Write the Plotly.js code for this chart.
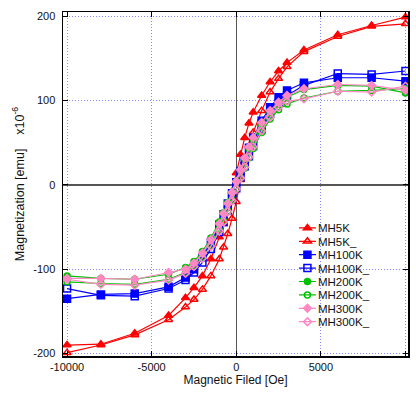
<!DOCTYPE html>
<html>
<head>
<meta charset="utf-8">
<script src="https://cdn.plot.ly/plotly-3.0.1.min.js"></script>
<style>
html,body{margin:0;padding:0;background:#fff;}
#chart{width:416px;height:394px;}
</style>
</head>
<body>
<div id="chart"></div>
<script>
// Field values (Oe) for descending branch (+H -> -H)
const H_down = [10000, 8000, 6000, 4000, 3000, 2500, 2000, 1500, 1000, 750, 500, 250, 0,
  -250, -500, -750, -1000, -1500, -2000, -2500, -3000, -4000, -6000, -8000, -10000];
// Field values for ascending branch (-H -> +H)
const H_up = [-10000, -8000, -6000, -4000, -3000, -2500, -2000, -1500, -1000, -750, -500, -250, 0,
  250, 500, 750, 1000, 1500, 2000, 2500, 3000, 4000, 6000, 8000, 10000];

// Magnetization (x10^-6 emu)
const MH5K = [199, 189, 178, 160, 145, 135, 122, 106, 86, 73, 56, 36, 14,
  -8, -28, -46, -62, -88, -108, -122, -134, -155, -176, -189, -190];
const MH5K_ = [-199, -190, -178, -160, -145, -136, -124, -108, -88, -74, -58, -40, -20,
  6, 28, 46, 62, 88, 110, 126, 140, 158, 176, 188, 191];

const MH100K = [123, 127, 127, 121, 112, 104, 92, 76, 56, 44, 30, 16, 3,
  -10, -22, -35, -47, -68, -86, -100, -110, -121, -129, -130, -135];
const MH100K_ = [-123, -131, -132, -123, -113, -104, -92, -76, -56, -44, -30, -17, -4,
  9, 22, 34, 46, 66, 84, 97, 106, 118, 132, 131, 135];

const MH200K = [109, 117, 118, 113, 104, 96, 86, 72, 54, 43, 31, 17, 4,
  -9, -21, -33, -44, -63, -79, -91, -98, -106, -112, -111, -108];
const MH200K_ = [-115, -117, -118, -112, -104, -96, -86, -72, -54, -43, -31, -18, -5,
  8, 20, 32, 43, 62, 78, 89, 96, 103, 111, 112, 114];

const MH300K = [112, 118, 119, 114, 106, 98, 88, 74, 56, 45, 32, 18, 4,
  -9, -22, -34, -46, -65, -81, -93, -100, -104, -112, -111, -111];
const MH300K_ = [-112, -118, -119, -113, -105, -97, -87, -73, -55, -44, -32, -19, -5,
  8, 21, 33, 45, 64, 80, 92, 99, 102, 111, 110, 117];

const seriesNames = ["MH5K", "MH5K_", "MH100K", "MH100K_", "MH200K", "MH200K_", "MH300K", "MH300K_"];
const xTicks = [-10000, -5000, 0, 5000, 10000];
const yTicks = [-200, -100, 0, 100, 200];

const RED = "#ff0000", BLUE = "#0000ff", GREEN = "#00c000", PINK = "#ff88c4";

function tr(name, x, y, color, symbol, size) {
  return {
    type: "scatter", mode: "lines+markers", name: name, x: x, y: y,
    line: {color: color, width: 1.2},
    marker: {color: color, symbol: symbol, size: size, line: {color: color, width: 1.5}}
  };
}

const data = [
  tr(seriesNames[0], H_down, MH5K, RED, "triangle-up", 7),
  tr(seriesNames[1], H_up, MH5K_, RED, "triangle-up-open", 7),
  tr(seriesNames[2], H_down, MH100K, BLUE, "square", 7),
  tr(seriesNames[3], H_up, MH100K_, BLUE, "square-open", 7),
  tr(seriesNames[4], H_down, MH200K, GREEN, "circle", 6),
  tr(seriesNames[5], H_up, MH200K_, GREEN, "circle-open", 6),
  tr(seriesNames[6], H_down, MH300K, PINK, "diamond", 6),
  tr(seriesNames[7], H_up, MH300K_, PINK, "diamond-open", 6)
];

const FONT = "Liberation Sans, Arial, sans-serif";

const layout = {
  width: 416, height: 394,
  margin: {l: 63, r: 8, t: 12, b: 38},
  paper_bgcolor: "#ffffff", plot_bgcolor: "#ffffff",
  font: {family: FONT, size: 11, color: "#111"},
  showlegend: true,
  legend: {
    x: 0.623, y: 0.40, xanchor: "left", yanchor: "top",
    bgcolor: "rgba(0,0,0,0)", borderwidth: 0,
    font: {family: FONT, size: 11.5, color: "#111"},
    itemwidth: 30
  },
  xaxis: {
    range: [-10240, 10150], tickvals: xTicks, ticktext: xTicks.map(String),
    showgrid: true, gridcolor: "#8a8aff", griddash: "1px,2px", gridwidth: 1,
    zeroline: true, zerolinecolor: "#555", zerolinewidth: 1.5,
    showline: true, linecolor: "#000", linewidth: 1.5, mirror: "ticks",
    ticks: "inside", ticklen: 5, tickcolor: "#000",
    tickfont: {family: FONT, size: 11, color: "#111"},
    title: {text: "Magnetic Filed [Oe]", font: {family: FONT, size: 12, color: "#111"}, standoff: 4}
  },
  yaxis: {
    range: [-203, 205], tickvals: yTicks, ticktext: yTicks.map(String),
    showgrid: true, gridcolor: "#8a8aff", griddash: "1px,2px", gridwidth: 1,
    zeroline: true, zerolinecolor: "#555", zerolinewidth: 1.5,
    showline: true, linecolor: "#000", linewidth: 1.5, mirror: "ticks",
    ticks: "inside", ticklen: 5, tickcolor: "#000",
    tickfont: {family: FONT, size: 11, color: "#111"},
    ticklabelstandoff: 4,
    title: {text: "Magnetization [emu]&nbsp;&nbsp;&nbsp;&nbsp;x10<sup>-6</sup>", font: {family: FONT, size: 12.5, color: "#111"}, standoff: 6}
  }
};

Plotly.newPlot("chart", data, layout, {displayModeBar: false, staticPlot: true}).then(function () {
  // compact legend rows and shorten the legend sample lines
  const items = document.querySelectorAll(".legend .traces");
  items.forEach(function (g, i) {
    const t = g.getAttribute("transform") || "";
    const m = t.match(/translate\(([-\d.]+)[ ,]+([-\d.]+)\)/);
    const x0 = m ? parseFloat(m[1]) : 0;
    g.setAttribute("transform", "translate(" + x0 + "," + (9.5 + i * 13.4) + ")");
    g.querySelectorAll(".legendlines path").forEach(function (p) {
      p.setAttribute("d", "M21,0h17");
    });
    g.querySelectorAll(".legendpoints path").forEach(function (p) {
      p.setAttribute("transform", "translate(29.5,0)");
    });
  });
});
</script>
</body>
</html>
